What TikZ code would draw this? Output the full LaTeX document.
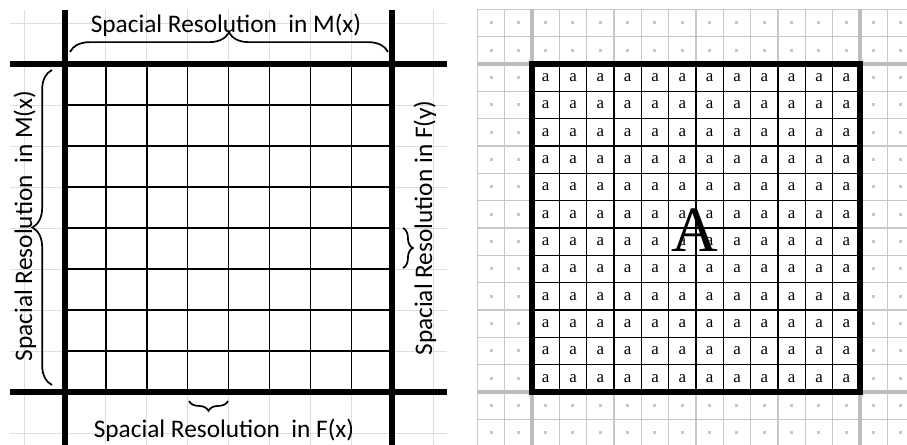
\documentclass[tikz,border=0pt]{standalone}
\usepackage{fontspec}
\setmainfont{Liberation Serif}
\newfontfamily\calfont{Carlito}
\usetikzlibrary{decorations.pathreplacing}
\tikzset{
    heavy/.style={line width=3.6pt},
    cellline/.style={line width=1pt},
    faint/.style={line width=0.7pt,draw=black!13},
    paleline/.style={line width=0.9pt,draw=black!22},
    paleheavy/.style={line width=2.6pt,draw=black!26},
    reslabel/.style={font=\calfont\fontsize{18}{20}\selectfont,inner sep=0pt},
    resbrace/.style={decorate,decoration={brace,amplitude=#1},line width=1.2pt},
    smalla/.style={font=\fontsize{12}{12}\selectfont,inner sep=0pt},
}
\begin{document}
\begin{tikzpicture}[x=0.025cm,y=-0.025cm]
        \useasboundingbox (0,0) rectangle (907,445);
        \fill[white] (0,0) rectangle (907,445);
        %% left: paper grid
        \foreach \i in {-1,...,9} {
            \draw[faint] ({65+40.9*\i},10) -- ({65+40.9*\i},445);
            \draw[faint] (10,{64+41*\i}) -- (447,{64+41*\i});
        }
        %% left: cells
        \foreach \i in {1,...,7} {
            \draw[cellline] ({65+40.9*\i},64) -- ({65+40.9*\i},392);
            \draw[cellline] (65,{64+41*\i}) -- (392,{64+41*\i});
        }
        \draw[heavy] (65,10) -- (65,445);
        \draw[heavy] (392,10) -- (392,445);
        \draw[heavy] (10,64) -- (447,64);
        \draw[heavy] (10,392) -- (447,392);
        %% left: braces and labels
        \coordinate (mx1) at (70,52);
        \coordinate (mx2) at (388,52);
        \coordinate (my1) at (52,385);
        \coordinate (my2) at (52,70);
        \coordinate (fx1) at (228,401);
        \coordinate (fx2) at (189,401);
        \coordinate (fy1) at (403,228);
        \coordinate (fy2) at (403,268);
        \draw[resbrace=14] (mx1) -- (mx2);
        \draw[resbrace=14] (my1) -- (my2);
        \draw[resbrace=7] (fx1) -- (fx2);
        \draw[resbrace=7] (fy1) -- (fy2);
        \node[reslabel] (labmx) at (226,25) {Spacial Resolution\ \ in M(x)};
        \node[reslabel] (labfx) at (224,430) {Spacial Resolution\ \ in F(x)};
        \node[reslabel,rotate=90] (labmy) at (25,226) {Spacial Resolution\ \ in M(x)};
        \node[reslabel,rotate=90] (labfy) at (425,228) {Spacial Resolution in F(y)};
        %% right: pale grid
        \foreach \i in {0,...,16}
            \draw[paleline] ({477.3+27.33*\i},9.3) -- ({477.3+27.33*\i},445);
        \foreach \j in {0,...,15}
            \draw[paleline] (477.3,{9.3+27.33*\j}) -- (907,{9.3+27.33*\j});
        \draw[paleheavy] (532,9.3) -- (532,445);
        \draw[paleheavy] (860,9.3) -- (860,445);
        \draw[paleheavy] (477.3,64) -- (907,64);
        \draw[paleheavy] (477.3,392) -- (907,392);
        %% right: dots outside the block
        \foreach \r in {0,1,14,15}
            \foreach \c in {0,...,15}
                \fill[black!22] ({491+27.33*\c},{23+27.33*\r}) +(-1.5,-1.5) rectangle +(1.5,1.5);
        \foreach \r in {2,...,13}
            \foreach \c in {0,1,14,15}
                \fill[black!22] ({491+27.33*\c},{23+27.33*\r}) +(-1.5,-1.5) rectangle +(1.5,1.5);
        %% right: block of a
        \fill[white] (532,64) rectangle (860,392);
        \foreach \i in {1,...,11} {
            \draw[cellline] ({532+27.33*\i},64) -- ({532+27.33*\i},392);
            \draw[cellline] (532,{64+27.33*\i}) -- (860,{64+27.33*\i});
        }
        \foreach \r in {0,...,11}
            \foreach \c in {0,...,11}
                \node[smalla] (a-\r-\c) at ({545.7+27.33*\c},{77.7+27.33*\r}) {a};
        \draw[heavy] (532,64) rectangle (860,392);
        \node[font=\fontsize{46}{46}\selectfont,inner sep=0pt] (bigA) at (695,230) {A};
\end{tikzpicture}
\end{document}
